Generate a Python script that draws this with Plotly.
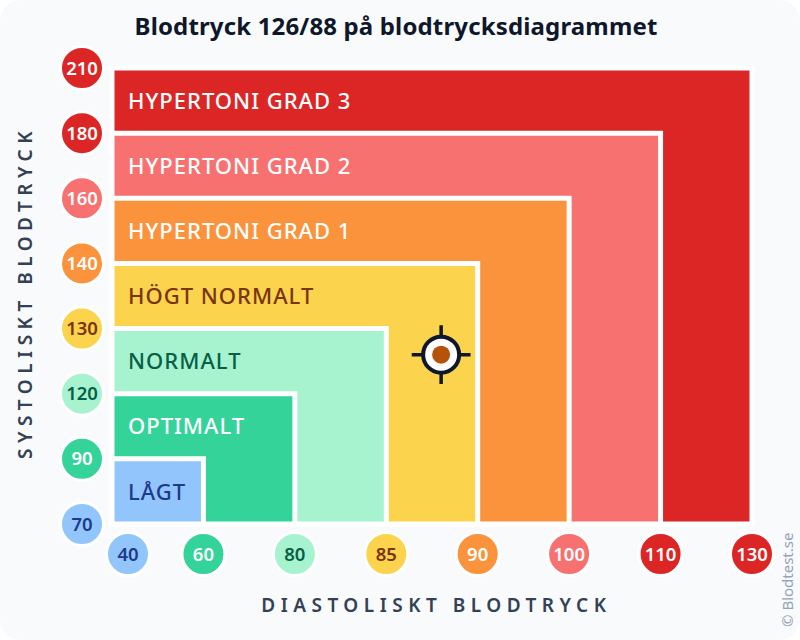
import numpy as np
import plotly.graph_objects as go

# data
zones = ["HYPERTONI GRAD 3", "HYPERTONI GRAD 2", "HYPERTONI GRAD 1", "HÖGT NORMALT", "NORMALT", "OPTIMALT", "LÅGT"]
zone_colors = ["#dc2626", "#f87171", "#fb923c", "#fcd34d", "#a7f3d0", "#34d399", "#93c5fd"]
zone_text = ["#ffffff", "#ffffff", "#ffffff", "#78350f", "#065f46", "#ffffff", "#1e3a8a"]

systolic = [70, 90, 120, 130, 140, 160, 180, 210]
diastolic = [40, 60, 80, 85, 90, 100, 110, 130]
sys_colors = ["#93c5fd", "#34d399", "#a7f3d0", "#fcd34d", "#fb923c", "#f87171", "#dc2626", "#dc2626"]
sys_text = ["#1e3a8a", "#ffffff", "#065f46", "#78350f", "#ffffff", "#ffffff", "#ffffff", "#ffffff"]
dia_colors = ["#93c5fd", "#34d399", "#a7f3d0", "#fcd34d", "#fb923c", "#f87171", "#dc2626", "#dc2626"]
dia_text = ["#1e3a8a", "#ffffff", "#065f46", "#78350f", "#ffffff", "#ffffff", "#ffffff", "#ffffff"]

reading_sys = 126
reading_dia = 88

FONT = "Noto Sans"

W, H = 800, 640
# where rank 0 and rank 7 of the axes land, in pixels
L, R, T, B = 112, 752, 68, 524
ux = (R - L) / 7
uy = (B - T) / 7
text_drop = 2 / uy  # text sits a little high in this font

ranks = np.arange(8)
reach = ranks[:0:-1]  # outer zone first

fig = go.Figure()

# nested zones, largest first
fig.add_trace(go.Bar(
    x=reach / 2,
    y=reach,
    width=reach,
    base=0,
    marker=dict(color=zone_colors, line=dict(color="white", width=5)),
    hoverinfo="skip",
))

# zone labels
label_x = (128 - L) / ux
fig.add_trace(go.Scatter(
    x=[label_x] * 7, y=reach - 0.5 - 1.3 * text_drop, mode="text", text=zones, textposition="middle right",
    textfont=dict(family=FONT, size=22, color=zone_text, weight=500), hoverinfo="skip",
))

# the round tick badges
sys_x = (82 - L) / ux
dia_y = -(554 - B) / uy
dia_pos = ranks.astype(float)
dia_pos[0] = label_x  # first badge is pushed right, clear of the 70 badge

fig.add_trace(go.Scatter(
    x=[sys_x] * 8, y=ranks, mode="markers",
    marker=dict(size=43, color=sys_colors, line=dict(color="white", width=3)),
    hoverinfo="skip",
))
fig.add_trace(go.Scatter(
    x=dia_pos, y=[dia_y] * 8, mode="markers",
    marker=dict(size=43, color=dia_colors, line=dict(color="white", width=3)),
    hoverinfo="skip",
))
fig.add_trace(go.Scatter(
    x=[sys_x] * 8, y=ranks - text_drop, mode="text", text=[str(v) for v in systolic],
    textposition="middle center",
    textfont=dict(family=FONT, size=18.5, color=sys_text, weight=600), hoverinfo="skip",
))
fig.add_trace(go.Scatter(
    x=dia_pos, y=[dia_y - text_drop] * 8, mode="text", text=[str(v) for v in diastolic],
    textposition="middle center",
    textfont=dict(family=FONT, size=18.5, color=dia_text, weight=600), hoverinfo="skip",
))

# the reading, placed between ticks
rx = [np.interp(reading_dia, diastolic, ranks)]
ry = [np.interp(reading_sys, systolic, ranks)]
fig.add_trace(go.Scatter(x=rx, y=ry, mode="markers", hoverinfo="skip",
                         marker=dict(symbol="cross-thin", size=42, line=dict(color="#0f172a", width=3.5))))
fig.add_trace(go.Scatter(x=rx, y=ry, mode="markers", hoverinfo="skip",
                         marker=dict(size=36, color="white", line=dict(color="#0f172a", width=4))))
fig.add_trace(go.Scatter(x=rx, y=ry, mode="markers", hoverinfo="skip",
                         marker=dict(size=18, color="#b45309")))

# rounded page background
c = 24 / W
d = 24 / H
fig.add_shape(type="path", xref="paper", yref="paper", layer="below", line_width=0, fillcolor="#f8fafc",
              path=f"M {c},0 L {1-c},0 Q 1,0 1,{d} L 1,{1-d} Q 1,1 {1-c},1 L {c},1 Q 0,1 0,{1-d} L 0,{d} Q 0,0 {c},0 Z")

fig.add_annotation(xref="paper", yref="paper", x=787 / W, y=1 - 580 / H, text="© Blodtest.se",
                   xanchor="center", yanchor="middle", textangle=-90, showarrow=False,
                   font=dict(family=FONT, size=15, color="#94a3b8"))
fig.add_annotation(xref="paper", yref="paper", x=436 / W, y=1 - 605 / H, text="DIASTOLISKT BLODTRYCK",
                   xanchor="center", yanchor="middle", showarrow=False,
                   font=dict(family=FONT, size=19, color="#334155", weight=600))
fig.add_annotation(xref="paper", yref="paper", x=25 / W, y=1 - 292 / H, text="SYSTOLISKT BLODTRYCK",
                   xanchor="center", yanchor="middle", textangle=-90, showarrow=False,
                   font=dict(family=FONT, size=19, color="#334155", weight=600))

fig.update_layout(
    width=W, height=H,
    margin=dict(l=0, r=0, t=0, b=0, pad=0),
    paper_bgcolor="white",
    plot_bgcolor="rgba(0,0,0,0)",
    barmode="overlay",
    showlegend=False,
    title=dict(text="Blodtryck 126/88 på blodtrycksdiagrammet", x=396 / W, xanchor="center",
               y=1 - 27 / H, yanchor="middle", font=dict(family=FONT, size=24, color="#0f172a", weight=700)),
    xaxis=dict(range=[-L / ux, (W - L) / ux], showgrid=False, zeroline=False, visible=False),
    yaxis=dict(range=[-(H - B) / uy, B / uy], showgrid=False, zeroline=False, visible=False),
)

# plotly has no letter-spacing option, so set it on the drawn text
post = """
document.body.style.margin = '0';
document.querySelectorAll('.annotation-text').forEach(function (t) {
  if (t.textContent.indexOf('BLODTRYCK') >= 0) { t.style.letterSpacing = '5.5px'; }
});
document.querySelectorAll('.textpoint text').forEach(function (t) {
  if (/[A-Z]/.test(t.textContent)) { t.style.letterSpacing = '1px'; }
});
document.querySelectorAll('.gtitle').forEach(function (t) { t.style.letterSpacing = '0.15px'; });
"""
fig.write_html("out.html", post_script=post, config=dict(displayModeBar=False))
